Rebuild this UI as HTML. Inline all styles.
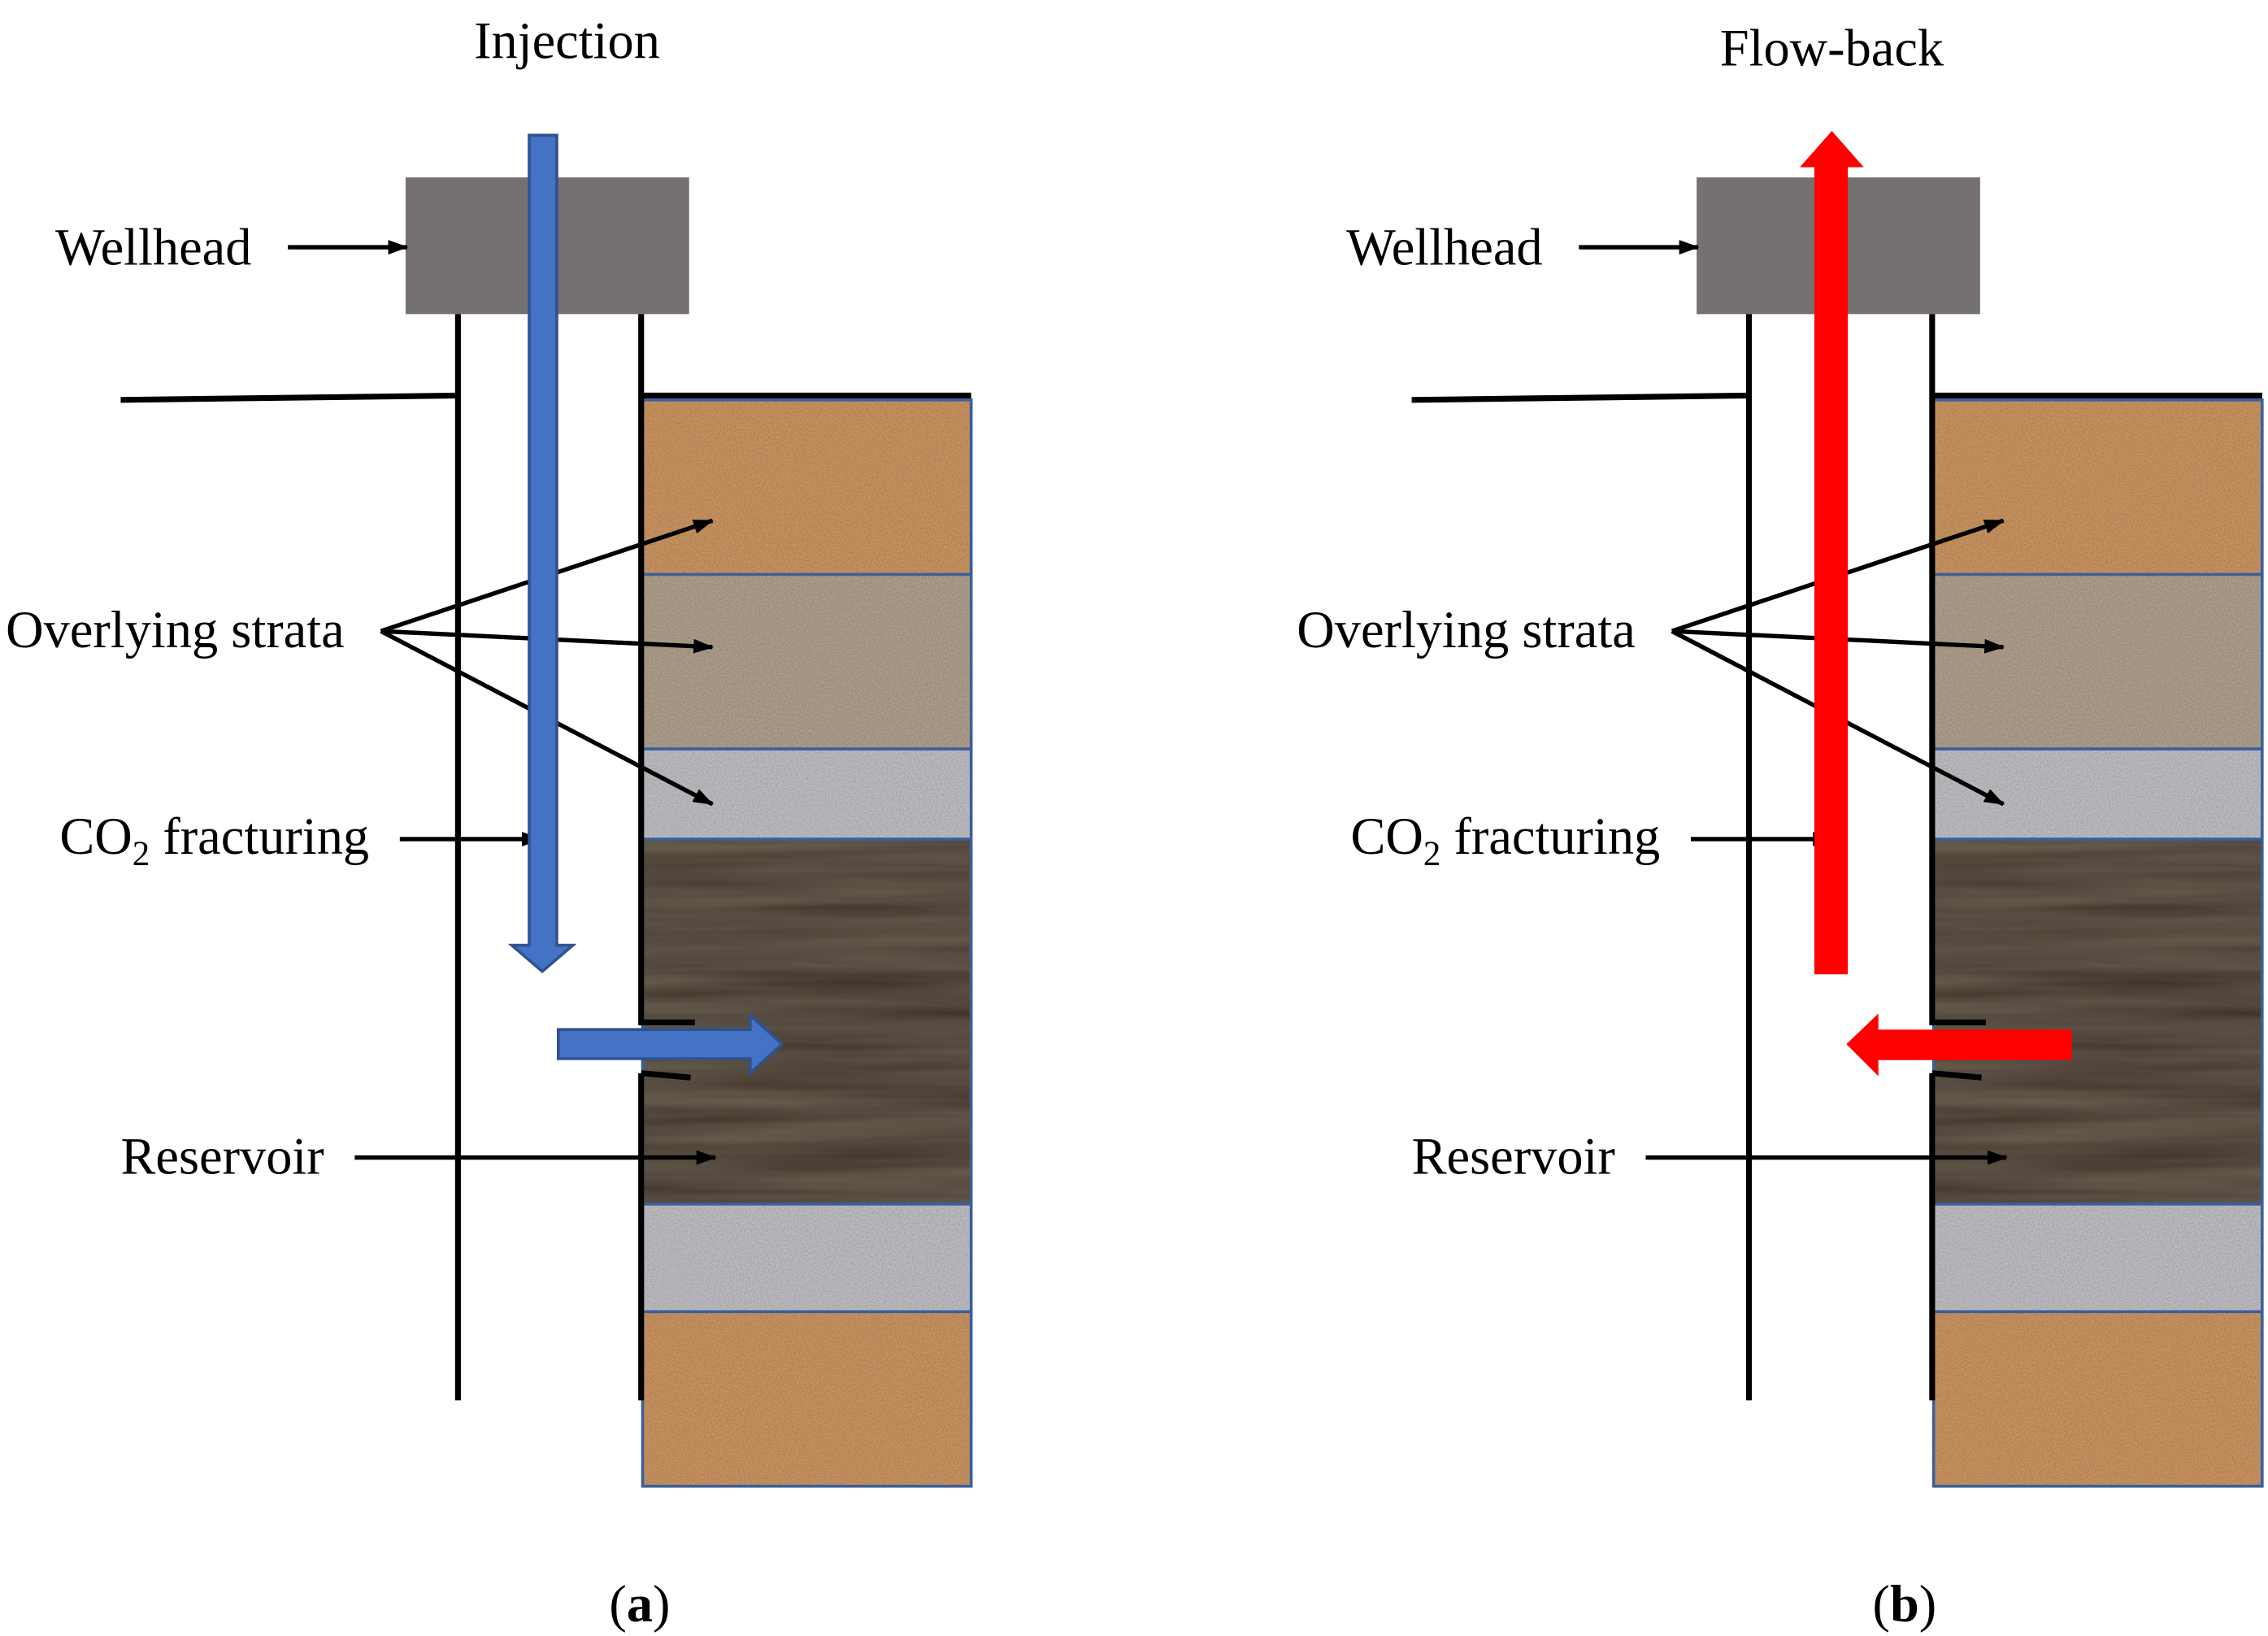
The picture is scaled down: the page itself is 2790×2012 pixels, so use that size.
<!DOCTYPE html>
<html><head><meta charset="utf-8"><style>html,body{margin:0;padding:0;background:#fff}svg{display:block}</style></head>
<body>
<svg width="2790" height="2012" viewBox="0 0 1560 1125" xmlns="http://www.w3.org/2000/svg" xmlns:xlink="http://www.w3.org/1999/xlink" font-family="'Liberation Serif',serif">
<defs>
<marker id="ah" markerWidth="14" markerHeight="10" refX="13" refY="5" orient="auto" markerUnits="userSpaceOnUse"><path d="M0,0 L14,5 L0,10 z" fill="#000"/></marker>
<filter id="nz" x="0" y="0" width="1" height="1"><feTurbulence type="fractalNoise" baseFrequency="0.9" numOctaves="2" seed="3"/><feColorMatrix type="matrix" values="0 0 0 0 0  0 0 0 0 0  0 0 0 0 0  0 0 0 0.45 0"/><feComposite in2="SourceGraphic" operator="in"/><feBlend in2="SourceGraphic" mode="multiply"/></filter>
<filter id="wd" x="0" y="0" width="1" height="1"><feTurbulence type="fractalNoise" baseFrequency="0.004 0.08" numOctaves="3" seed="5"/><feColorMatrix type="matrix" values="0 0 0 0 1  0 0 0 0 0.85  0 0 0 0 0.65  0 0 0 0.12 0"/><feComposite in2="SourceGraphic" operator="in"/><feBlend in2="SourceGraphic" mode="screen"/></filter>
</defs>
<g id="panel">
<rect x="279" y="122" width="195" height="94" fill="#757171"/>
<g filter="url(#nz)">
<rect x="442" y="275" width="226" height="120" fill="#d49c66"/>
<rect x="442" y="395" width="226" height="120" fill="#b8a894"/>
<rect x="442" y="515" width="226" height="62" fill="#c8c8cc"/>
<rect x="442" y="828" width="226" height="74" fill="#c8c8cc"/>
<rect x="442" y="902" width="226" height="120" fill="#d49c66"/>
</g>
<rect x="442" y="577" width="226" height="251" fill="#35261a" filter="url(#wd)"/>
<g fill="none" stroke="#3a5fa0" stroke-width="2">
<rect x="442" y="275" width="226" height="747"/>
<line x1="442" y1="395" x2="668" y2="395"/><line x1="442" y1="515" x2="668" y2="515"/>
<line x1="442" y1="577" x2="668" y2="577"/><line x1="442" y1="828" x2="668" y2="828"/>
<line x1="442" y1="902" x2="668" y2="902"/>
</g>
<g stroke="#000" stroke-width="4" fill="none">
<line x1="315" y1="216" x2="315" y2="963"/>
<line x1="441" y1="216" x2="441" y2="705"/>
<line x1="441" y1="738" x2="441" y2="963"/>
<line x1="83" y1="275" x2="315" y2="272"/>
<line x1="441" y1="272" x2="668" y2="272"/>
<line x1="441" y1="703" x2="478" y2="703"/>
<line x1="441" y1="738" x2="475" y2="741"/>
</g>
<g stroke="#000" stroke-width="3" marker-end="url(#ah)">
<line x1="198" y1="170" x2="280" y2="170"/>
<line x1="262" y1="434" x2="490" y2="358"/>
<line x1="262" y1="434" x2="490" y2="445"/>
<line x1="262" y1="434" x2="490" y2="553"/>
<line x1="275" y1="577" x2="372" y2="577"/>
<line x1="244" y1="796" x2="492" y2="796"/>
</g>
<g font-size="36" fill="#000">
<text x="38" y="182">Wellhead</text>
<text x="4" y="445">Overlying strata</text>
<text x="41" y="587">CO<tspan font-size="24" dy="8">2</tspan><tspan dy="-8"> fracturing</tspan></text>
<text x="83" y="807">Reservoir</text>
</g>
</g>
<use href="#panel" xlink:href="#panel" transform="translate(888,0)"/>
<path d="M364,93 H383 V650 H394 L373,668 L352,650 H364 Z" fill="#4472c4" stroke="#2f528f" stroke-width="2"/>
<path d="M384,708 H516 V698 L538,718 L516,738 V728 H384 Z" fill="#4472c4" stroke="#2f528f" stroke-width="2"/>
<path d="M1248,670 V115 H1238 L1260,90 L1282,115 H1271 V670 Z" fill="#ff0000"/>
<path d="M1425,708 H1292 V697 L1270,718 L1292,740 V729 H1425 Z" fill="#ff0000"/>
<g font-size="36" fill="#000" text-anchor="middle">
<text x="390" y="40">Injection</text>
<text x="1260" y="45">Flow-back</text>
<text x="440" y="1115">(<tspan font-weight="bold">a</tspan>)</text>
<text x="1310" y="1115">(<tspan font-weight="bold">b</tspan>)</text>
</g>
</svg>
</body></html>
